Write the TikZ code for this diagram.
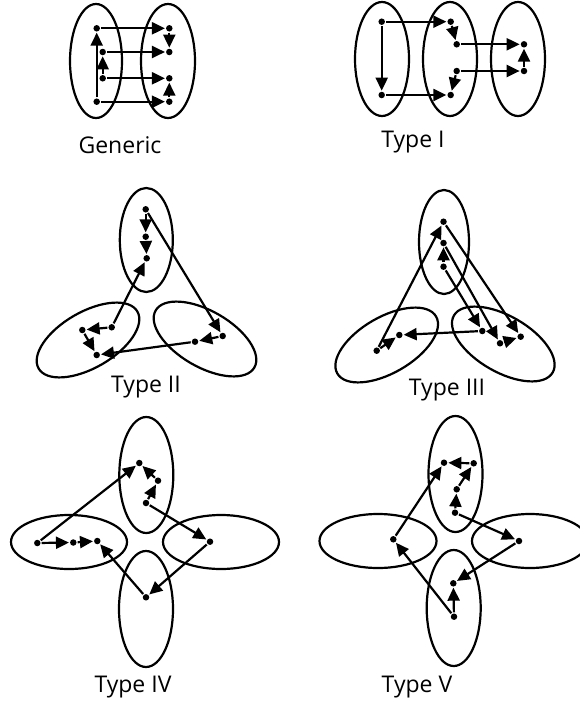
\documentclass[tikz,border=0pt]{standalone}
\usepackage{fontspec}
\setmainfont{Open Sans}
\usetikzlibrary{arrows.meta}

\begin{document}
\begin{tikzpicture}[x=1pt,y=-1pt,line width=2.2pt,
	vtx/.style={circle,fill,inner sep=0pt,minimum size=6.5pt},
	link/.style={-{Triangle[length=13pt,width=12pt]}},
	typelbl/.style={anchor=base,font=\fontsize{23}{27}\selectfont}]
	\useasboundingbox (0,0) rectangle (580,704);
	\def\ra{27}	%short radius
	\def\rb{57}	%long radius
	
	%GENERIC
	\draw (96,61) ellipse [x radius=26,y radius=\rb];
	\draw (168,61) ellipse [x radius=\ra,y radius=\rb];
	\node[vtx] (gen1) at (96.7,28.3) {};	\node[vtx] (gen2) at (169.3,28.3) {};
	\node[vtx] (gen3) at (169.3,52) {};	\node[vtx] (gen4) at (102.7,52) {};
	\node[vtx] (gen5) at (102.7,78.3) {};	\node[vtx] (gen6) at (169.3,78.3) {};
	\node[vtx] (gen7) at (169.3,101.7) {};	\node[vtx] (gen8) at (96.7,101.7) {};
	\draw[link] (gen8)--(gen1);	\draw[link] (gen1)--(gen2);	\draw[link] (gen2)--(gen3);
	\draw[link] (gen5)--(gen4);	\draw[link] (gen4)--(gen3);	\draw[link] (gen5)--(gen6);
	\draw[link] (gen7)--(gen6);	\draw[link] (gen8)--(gen7);
	\node[typelbl] (genlbl) at (120,153) {Generic};
	
	%TYPE I
	\draw (382,59) ellipse [x radius=\ra,y radius=\rb];
	\draw (450,59) ellipse [x radius=\ra,y radius=\rb];
	\draw (518,59) ellipse [x radius=\ra,y radius=\rb];
	\node[vtx] (one1) at (381.7,21.7) {};	\node[vtx] (one2) at (450.7,21.7) {};
	\node[vtx] (one3) at (456.7,44.3) {};	\node[vtx] (one4) at (524,44.3) {};
	\node[vtx] (one5) at (524,71) {};	\node[vtx] (one6) at (456.7,71) {};
	\node[vtx] (one7) at (450.7,95) {};	\node[vtx] (one8) at (381.7,95) {};
	\draw[link] (one1)--(one8);	\draw[link] (one8)--(one7);	\draw[link] (one1)--(one2);
	\draw[link] (one2)--(one3);	\draw[link] (one6)--(one7);	\draw[link] (one3)--(one4);
	\draw[link] (one6)--(one5);	\draw[link] (one5)--(one4);
	\node[typelbl] (onelbl) at (413,147) {Type I};
	
	%TYPE II
	\draw (146.3,240) ellipse [x radius=26.5,y radius=52];
	\draw (88,340) ellipse [x radius=\rb,y radius=28,rotate=30];
	\draw (205,339) ellipse [x radius=\rb,y radius=28,rotate=-30];
	\node[vtx] (two1) at (145.7,209.3) {};	\node[vtx] (two2) at (145.7,236.7) {};
	\node[vtx] (two3) at (146.7,258.3) {};	\node[vtx] (two4) at (111.7,327.3) {};
	\node[vtx] (two5) at (82.3,330) {};	\node[vtx] (two6) at (96.7,355) {};
	\node[vtx] (two7) at (195,341.7) {};	\node[vtx] (two8) at (222.7,336) {};
	\draw[link] (two1)--(two2);	\draw[link] (two2)--(two3);	\draw[link] (two4)--(two3);
	\draw[link] (two4)--(two5);	\draw[link] (two5)--(two6);	\draw[link] (two1)--(two8);
	\draw[link] (two8)--(two7);	\draw[link] (two7)--(two6);
	\node[typelbl] (twolbl) at (146,392) {Type II};
	
	%TYPE III
	\draw (444,242) ellipse [x radius=25,y radius=52];
	\draw (386.7,345) ellipse [x radius=\rb,y radius=28,rotate=30];
	\draw (503.3,344) ellipse [x radius=\rb,y radius=28,rotate=-30];
	\node[vtx] (three1) at (443.5,221.7) {};	\node[vtx] (three2) at (443.5,243) {};
	\node[vtx] (three3) at (443.5,266.7) {};	\node[vtx] (three4) at (376.7,350.7) {};
	\node[vtx] (three5) at (399.3,335) {};	\node[vtx] (three6) at (482.3,331) {};
	\node[vtx] (three7) at (500,343.3) {};	\node[vtx] (three8) at (520.7,336.7) {};
	\draw[link] (three4)--(three1);	\draw[link] (three3)--(three2);	\draw[link] (three3)--(three6);
	\draw[link] (three6)--(three5);	\draw[link] (three4)--(three5);	\draw[link] (three2)--(three7);
	\draw[link] (three7)--(three8);	\draw[link] (three1)--(three8);
	\node[typelbl] (threelbl) at (447,395) {Type III};
	
	%TYPE IV
	\draw (146.3,475) ellipse [x radius=\ra,y radius=58];
	\draw (146,609) ellipse [x radius=\ra,y radius=58];
	\draw (69,542) ellipse [x radius=58,y radius=\ra];
	\draw (221,542) ellipse [x radius=58,y radius=\ra];
	\node[vtx] (four1) at (37.3,543) {};	\node[vtx] (four2) at (73.3,542.5) {};
	\node[vtx] (four3) at (97.3,541) {};	\node[vtx] (four4) at (139.3,463) {};
	\node[vtx] (four5) at (158,480.7) {};	\node[vtx] (four6) at (146,503) {};
	\node[vtx] (four7) at (210,541.7) {};	\node[vtx] (four8) at (146,597.3) {};
	\draw[link] (four1)--(four2);	\draw[link] (four2)--(four3);	\draw[link] (four1)--(four4);
	\draw[link] (four5)--(four4);	\draw[link] (four6)--(four5);	\draw[link] (four6)--(four7);
	\draw[link] (four7)--(four8);	\draw[link] (four8)--(four3);
	\node[typelbl] (fourlbl) at (133,692) {Type IV};
	
	%TYPE V
	\draw (455.5,474) ellipse [x radius=\ra,y radius=58];
	\draw (453.7,608) ellipse [x radius=\ra,y radius=58];
	\draw (378,541) ellipse [x radius=58.5,y radius=\ra];
	\draw (530,541) ellipse [x radius=58,y radius=\ra];
	\node[vtx] (five1) at (444,462.7) {};	\node[vtx] (five2) at (473.7,463.3) {};
	\node[vtx] (five3) at (456.7,489.3) {};	\node[vtx] (five4) at (455,512.7) {};
	\node[vtx] (five5) at (519,541) {};	\node[vtx] (five6) at (453.3,583.3) {};
	\node[vtx] (five7) at (454,616.7) {};	\node[vtx] (five8) at (393.3,539.3) {};
	\draw[link] (five2)--(five1);	\draw[link] (five3)--(five2);	\draw[link] (five4)--(five3);
	\draw[link] (five8)--(five1);	\draw[link] (five4)--(five5);	\draw[link] (five5)--(five6);
	\draw[link] (five7)--(five6);	\draw[link] (five7)--(five8);
	\node[typelbl] (fivelbl) at (417,692) {Type V};
\end{tikzpicture}
\end{document}
